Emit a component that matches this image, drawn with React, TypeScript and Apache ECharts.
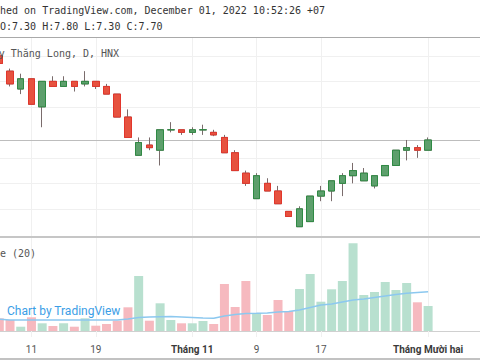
import React, { useEffect, useRef } from "react";
import * as echarts from "echarts";

// ---- data ----
const dates = [
  "2022-10-06", "2022-10-07", "2022-10-10", "2022-10-11", "2022-10-12", "2022-10-13", "2022-10-14",
  "2022-10-17", "2022-10-18", "2022-10-19", "2022-10-20", "2022-10-21", "2022-10-24", "2022-10-25",
  "2022-10-26", "2022-10-27", "2022-10-28", "2022-10-31", "2022-11-01", "2022-11-02", "2022-11-03",
  "2022-11-04", "2022-11-07", "2022-11-08", "2022-11-09", "2022-11-10", "2022-11-11", "2022-11-14",
  "2022-11-15", "2022-11-16", "2022-11-17", "2022-11-18", "2022-11-21", "2022-11-22", "2022-11-23",
  "2022-11-24", "2022-11-25", "2022-11-28", "2022-11-29", "2022-11-30", "2022-12-01",
];
const futureDates = ["2022-12-02", "2022-12-05", "2022-12-06", "2022-12-07", "2022-12-08"];

const open = [11.0, 10.4, 9.7, 10.1, 9.0, 10.0, 9.8, 10.0, 9.9, 10.0, 9.8, 9.5, 8.6, 7.1, 7.5, 7.3, 8.1, 8.1, 8.0, 8.1, 8.0,
  7.8, 7.2, 6.4, 5.4, 6.0, 5.7, 4.9, 4.3, 4.5, 5.5, 5.7, 6.0, 6.3, 6.1, 5.9, 6.3, 6.7, 7.3, 7.4, 7.3];
const high = [11.1, 10.5, 10.3, 10.1, 10.0, 10.2, 10.2, 10.0, 10.4, 10.0, 9.9, 9.5, 8.9, 7.8, 7.8, 8.1, 8.4, 8.1, 8.2, 8.3, 8.1,
  7.9, 7.3, 6.5, 6.4, 6.2, 5.9, 4.9, 5.1, 5.5, 5.9, 6.1, 6.4, 6.8, 6.6, 6.3, 6.7, 7.3, 7.7, 7.5, 7.8];
const low = [10.6, 9.8, 9.5, 9.1, 8.2, 9.8, 9.8, 9.6, 9.8, 9.7, 9.5, 8.6, 7.8, 7.1, 7.3, 6.7, 8.0, 7.9, 7.9, 7.9, 7.85,
  7.2, 6.5, 5.9, 5.4, 5.7, 5.2, 4.7, 4.3, 4.5, 5.3, 5.3, 5.5, 6.0, 6.1, 5.8, 6.3, 6.7, 6.9, 7.0, 7.3];
const close = [10.7, 9.9, 10.1, 9.1, 10.0, 9.8, 10.0, 9.8, 10.0, 9.8, 9.5, 8.6, 7.8, 7.6, 7.4, 8.1, 8.1, 8.0, 8.1, 8.1, 7.9,
  7.2, 6.5, 6.0, 6.3, 5.7, 5.2, 4.7, 5.0, 5.5, 5.7, 6.1, 6.3, 6.5, 6.4, 6.3, 6.7, 7.3, 7.4, 7.3, 7.7];

// volume, thousand shares
const volume = [127, 110, 43, 137, 77, 50, 77, 43, 127, 53, 70, 103, 237, 550, 103, 277, 110, 77, 77, 100, 70,
  470, 240, 500, 180, 160, 310, 200, 420, 570, 293, 417, 500, 877, 360, 390, 490, 410, 480, 287, 250];
// 20-day moving average of volume, thousand shares
const volumeMA20 = [117, 110, 110, 110, 110, 110, 110, 110, 110, 110, 110, 110, 120, 135, 140, 143, 145, 140, 135, 130, 127,
  150, 165, 175, 177, 180, 190, 195, 210, 235, 260, 270, 290, 310, 320, 335, 350, 365, 377, 385, 393];

const tickDates = ["2022-10-11", "2022-10-19", "2022-11-01", "2022-11-09", "2022-11-17", "2022-12-01"];
const tickLabels = ["11", "19", "Tháng 11", "9", "17", "Tháng Mười hai"];
const monthLabels = ["Tháng 11", "Tháng Mười hai"];
const priceGridLevels = [5, 6, 7, 9, 10, 11];

const headerText = "hed on TradingView.com, December 01, 2022 10:52:26 +07";
const titleText = "y Thăng Long, D, HNX";
const volumeTitle = "e (20)";
const watermark = "Chart by TradingView";

export default function App() {
  const ref = useRef<HTMLDivElement>(null);
  useEffect(() => {
    if (!ref.current) return;
    const chart = echarts.init(ref.current, undefined, { renderer: "svg" });
    const cats = dates.concat(futureDates);
    const last = dates.length - 1;

    const UP_FILL = "#5d9f6c";
    const UP_BORDER = "#2f8a44";
    const DN_FILL = "#e6523f";
    const DN_BORDER = "#e2362c";
    const WICK = "#7a6c6c";
    const VOL_UP = "#b8e0cf";
    const VOL_DN = "#f6b9bf";
    const GRID = "#f0f0f0";

    const isUp = (i: number) =>
      close[i] > open[i] || (close[i] === open[i] && (i === 0 || close[i] >= close[i - 1]));

    const wickData = dates.map((_, i) => [open[i], close[i], low[i], high[i]]);
    const bodyData = dates.map((_, i) => [open[i], close[i], Math.min(open[i], close[i]), Math.max(open[i], close[i])]);
    const volData = volume.map((v, i) => ({ value: v, itemStyle: { color: isUp(i) ? VOL_UP : VOL_DN } }));

    const isTick = (index: number) => tickDates.indexOf(cats[index]) >= 0;
    const ohlc = `O:${open[last].toFixed(2)} H:${high[last].toFixed(2)} L:${low[last].toFixed(2)} C:${close[last].toFixed(2)}`;

    const gridLeft = -6.06;
    const gridRight = -7.06;
    const mono = "'DejaVu Sans Mono', 'Liberation Mono', monospace";

    chart.setOption({
      animation: false,
      backgroundColor: "#ffffff",
      grid: [
        { left: gridLeft, right: gridRight, top: 37, height: 200, outerBoundsMode: "none", containLabel: false },
        { left: gridLeft, right: gridRight, top: 238, height: 99, outerBoundsMode: "none", containLabel: false },
      ],
      xAxis: [
        {
          type: "category", gridIndex: 0, data: cats, boundaryGap: true,
          axisLine: { show: false }, axisTick: { show: false }, axisLabel: { show: false }, splitLine: { show: false },
        },
        {
          type: "category", gridIndex: 1, data: cats, boundaryGap: true,
          axisLine: { show: true, lineStyle: { color: "#d0d0d0", width: 1 } },
          axisTick: { show: true, alignWithLabel: true, length: 4, interval: (i: number) => isTick(i), lineStyle: { color: "#b8b8b8" } },
          axisLabel: {
            show: true, margin: 7, interval: (i: number) => isTick(i),
            color: "#555", fontSize: 10, fontFamily: "Roboto",
            formatter: (v: string) => {
              const t = tickLabels[tickDates.indexOf(v)] || "";
              return monthLabels.indexOf(t) >= 0 ? `{b|${t}}` : t;
            },
            rich: { b: { fontWeight: "bold", fontSize: 10, fontFamily: "Roboto", color: "#3a3a3a" } },
          },
          splitLine: { show: false },
        },
      ],
      yAxis: [
        { type: "value", gridIndex: 0, min: 3.896, max: 11.739, show: false, splitLine: { show: false } },
        { type: "value", gridIndex: 1, min: -60, max: 930, show: false, splitLine: { show: false } },
      ],
      series: [
        {
          type: "line", xAxisIndex: 0, yAxisIndex: 0, data: cats.map(() => null), showSymbol: false, silent: true, z: 1,
          markLine: {
            silent: true, symbol: "none", z: 1, label: { show: false }, animation: false,
            lineStyle: { color: GRID, type: "solid", width: 1 },
            data: [
              ...priceGridLevels.map((v) => ({ yAxis: v })),
              ...tickDates.map((d) => ({ xAxis: d })),
              { yAxis: close[last], lineStyle: { color: "#bdbdbd", type: "solid", width: 1 } },
            ],
          },
        },
        {
          type: "line", xAxisIndex: 1, yAxisIndex: 1, data: cats.map(() => null), showSymbol: false, silent: true, z: 1,
          markLine: {
            silent: true, symbol: "none", z: 1, label: { show: false }, animation: false,
            lineStyle: { color: GRID, type: "solid", width: 1 },
            data: tickDates.map((d) => ({ xAxis: d })),
          },
        },
        {
          type: "candlestick", xAxisIndex: 0, yAxisIndex: 0, data: wickData, barWidth: 7, z: 6, silent: true,
          itemStyle: { color: WICK, color0: WICK, borderColor: WICK, borderColor0: WICK, borderWidth: 1 },
        },
        {
          type: "candlestick", xAxisIndex: 0, yAxisIndex: 0, data: bodyData, barWidth: 7, z: 7, silent: true,
          itemStyle: { color: UP_FILL, color0: DN_FILL, borderColor: UP_BORDER, borderColor0: DN_BORDER, borderWidth: 1 },
        },
        {
          type: "bar", xAxisIndex: 1, yAxisIndex: 1, data: volData, barWidth: 9, z: 6, silent: true,
        },
        {
          type: "line", xAxisIndex: 1, yAxisIndex: 1, data: volumeMA20, showSymbol: false, symbol: "none", z: 7, silent: true,
          lineStyle: { color: "#8cc8ef", width: 1.5 },
        },
      ],
      graphic: [
        { type: "text", x: 0, y: 10, z: 100, silent: true,
          style: { text: headerText, font: `10px ${mono}`, fill: "#333", textVerticalAlign: "middle" } },
        { type: "text", x: 0, y: 26, z: 100, silent: true,
          style: { text: ohlc, font: `10px ${mono}`, fill: "#333", textVerticalAlign: "middle" } },
        { type: "line", z: 100, silent: true, shape: { x1: 0, y1: 37.5, x2: 480, y2: 37.5 }, style: { stroke: "#a9a9a9", lineWidth: 1 } },
        { type: "text", x: -1.3, y: 53, z: 100, silent: true,
          style: { text: titleText, font: `10px ${mono}`, fill: "#555", textVerticalAlign: "middle" } },
        { type: "rect", z: 100, silent: true, shape: { x: 0, y: 236, width: 480, height: 2 }, style: { fill: "#c6c6c6" } },
        { type: "text", x: 0, y: 253, z: 100, silent: true,
          style: { text: volumeTitle, font: `10px ${mono}`, fill: "#555", textVerticalAlign: "middle" } },
        { type: "text", x: 7, y: 311, z: 100, silent: true,
          style: { text: watermark, font: "12px Roboto", fill: "#3b9ee6", textVerticalAlign: "middle" } },
        { type: "rect", z: 100, silent: true, shape: { x: 0, y: 358, width: 480, height: 2 }, style: { fill: "#c2c2c2" } },
      ],
    });
    return () => chart.dispose();
  }, []);
  return <div ref={ref} style={{ position: "fixed", left: 0, top: 0, width: 480, height: 360 }} />;
}
